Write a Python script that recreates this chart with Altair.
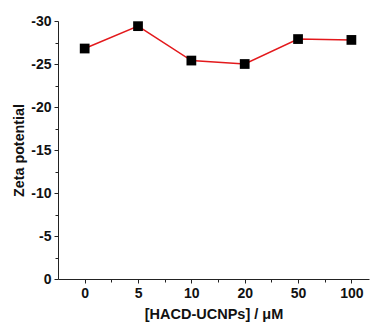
import altair as alt
import pandas as pd

labels = ["0", "5", "10", "20", "50", "100"]
zeta = [-26.8, -29.4, -25.4, -25.0, -27.9, -27.8]

df = pd.DataFrame({"idx": list(range(len(labels))), "label": labels, "zeta": zeta})

label_js = "[" + ",".join("'%s'" % l for l in labels) + "]"

FONT = "Liberation Sans"

xscale = alt.Scale(domain=[-0.5, 5.33], nice=False, zero=False)
yscale = alt.Scale(domain=[-30, 0], reverse=True, nice=False)

x_major = alt.X("idx:Q", scale=xscale,
                axis=alt.Axis(values=list(range(len(labels))), labelExpr=label_js + "[round(datum.value)]",
                              title="[HACD-UCNPs] / μM", grid=False, tickSize=4, labelPadding=3,
                              labelFontSize=14, labelFont=FONT, labelFontWeight="bold",
                              titleFontSize=14.5, titleFont=FONT, titleFontWeight="bold",
                              titlePadding=7, domainColor="#222", tickColor="#222",
                              labelColor="#111", titleColor="#111", orient="bottom"))
y_major = alt.Y("zeta:Q", scale=yscale,
                axis=alt.Axis(values=[-30, -25, -20, -15, -10, -5, 0], labelExpr="'' + datum.value",
                              title="Zeta potential",
                              grid=False, tickSize=4, labelPadding=3,
                              labelFontSize=14, labelFont=FONT, labelFontWeight="bold",
                              titleFontSize=14.3, titleFont=FONT, titleFontWeight="bold",
                              titlePadding=4, domainColor="#222", tickColor="#222",
                              labelColor="#111", titleColor="#111", orient="left"))

line = alt.Chart(df).mark_line(color="#e3191c", strokeWidth=1.5).encode(x=x_major, y=y_major)
pts = alt.Chart(df).mark_square(color="black", size=95, opacity=1).encode(
    x=alt.X("idx:Q", scale=xscale, axis=None), y=alt.Y("zeta:Q", scale=yscale, axis=None))

minor = alt.Chart(df).mark_point(opacity=0).encode(
    x=alt.X("idx:Q", scale=xscale,
            axis=alt.Axis(values=[0.5, 1.5, 2.5, 3.5, 4.5], labels=False, title=None, grid=False,
                          domain=False, tickSize=3, tickColor="#222", orient="bottom")),
    y=alt.Y("zeta:Q", scale=yscale,
            axis=alt.Axis(values=[-27.5, -22.5, -17.5, -12.5, -7.5, -2.5], labels=False, title=None,
                          grid=False, domain=False, tickSize=3, tickColor="#222", orient="left")),
)

chart = alt.layer(line, pts, minor).resolve_axis(x="independent", y="independent").properties(
    width=311, height=258,
    autosize=alt.AutoSizeParams(type="none"),
    padding={"left": 58, "top": 21, "right": 5, "bottom": 48},
    background="white",
).configure_view(stroke=None)

chart.save("out.html", embed_options={"renderer": "svg", "actions": False})
